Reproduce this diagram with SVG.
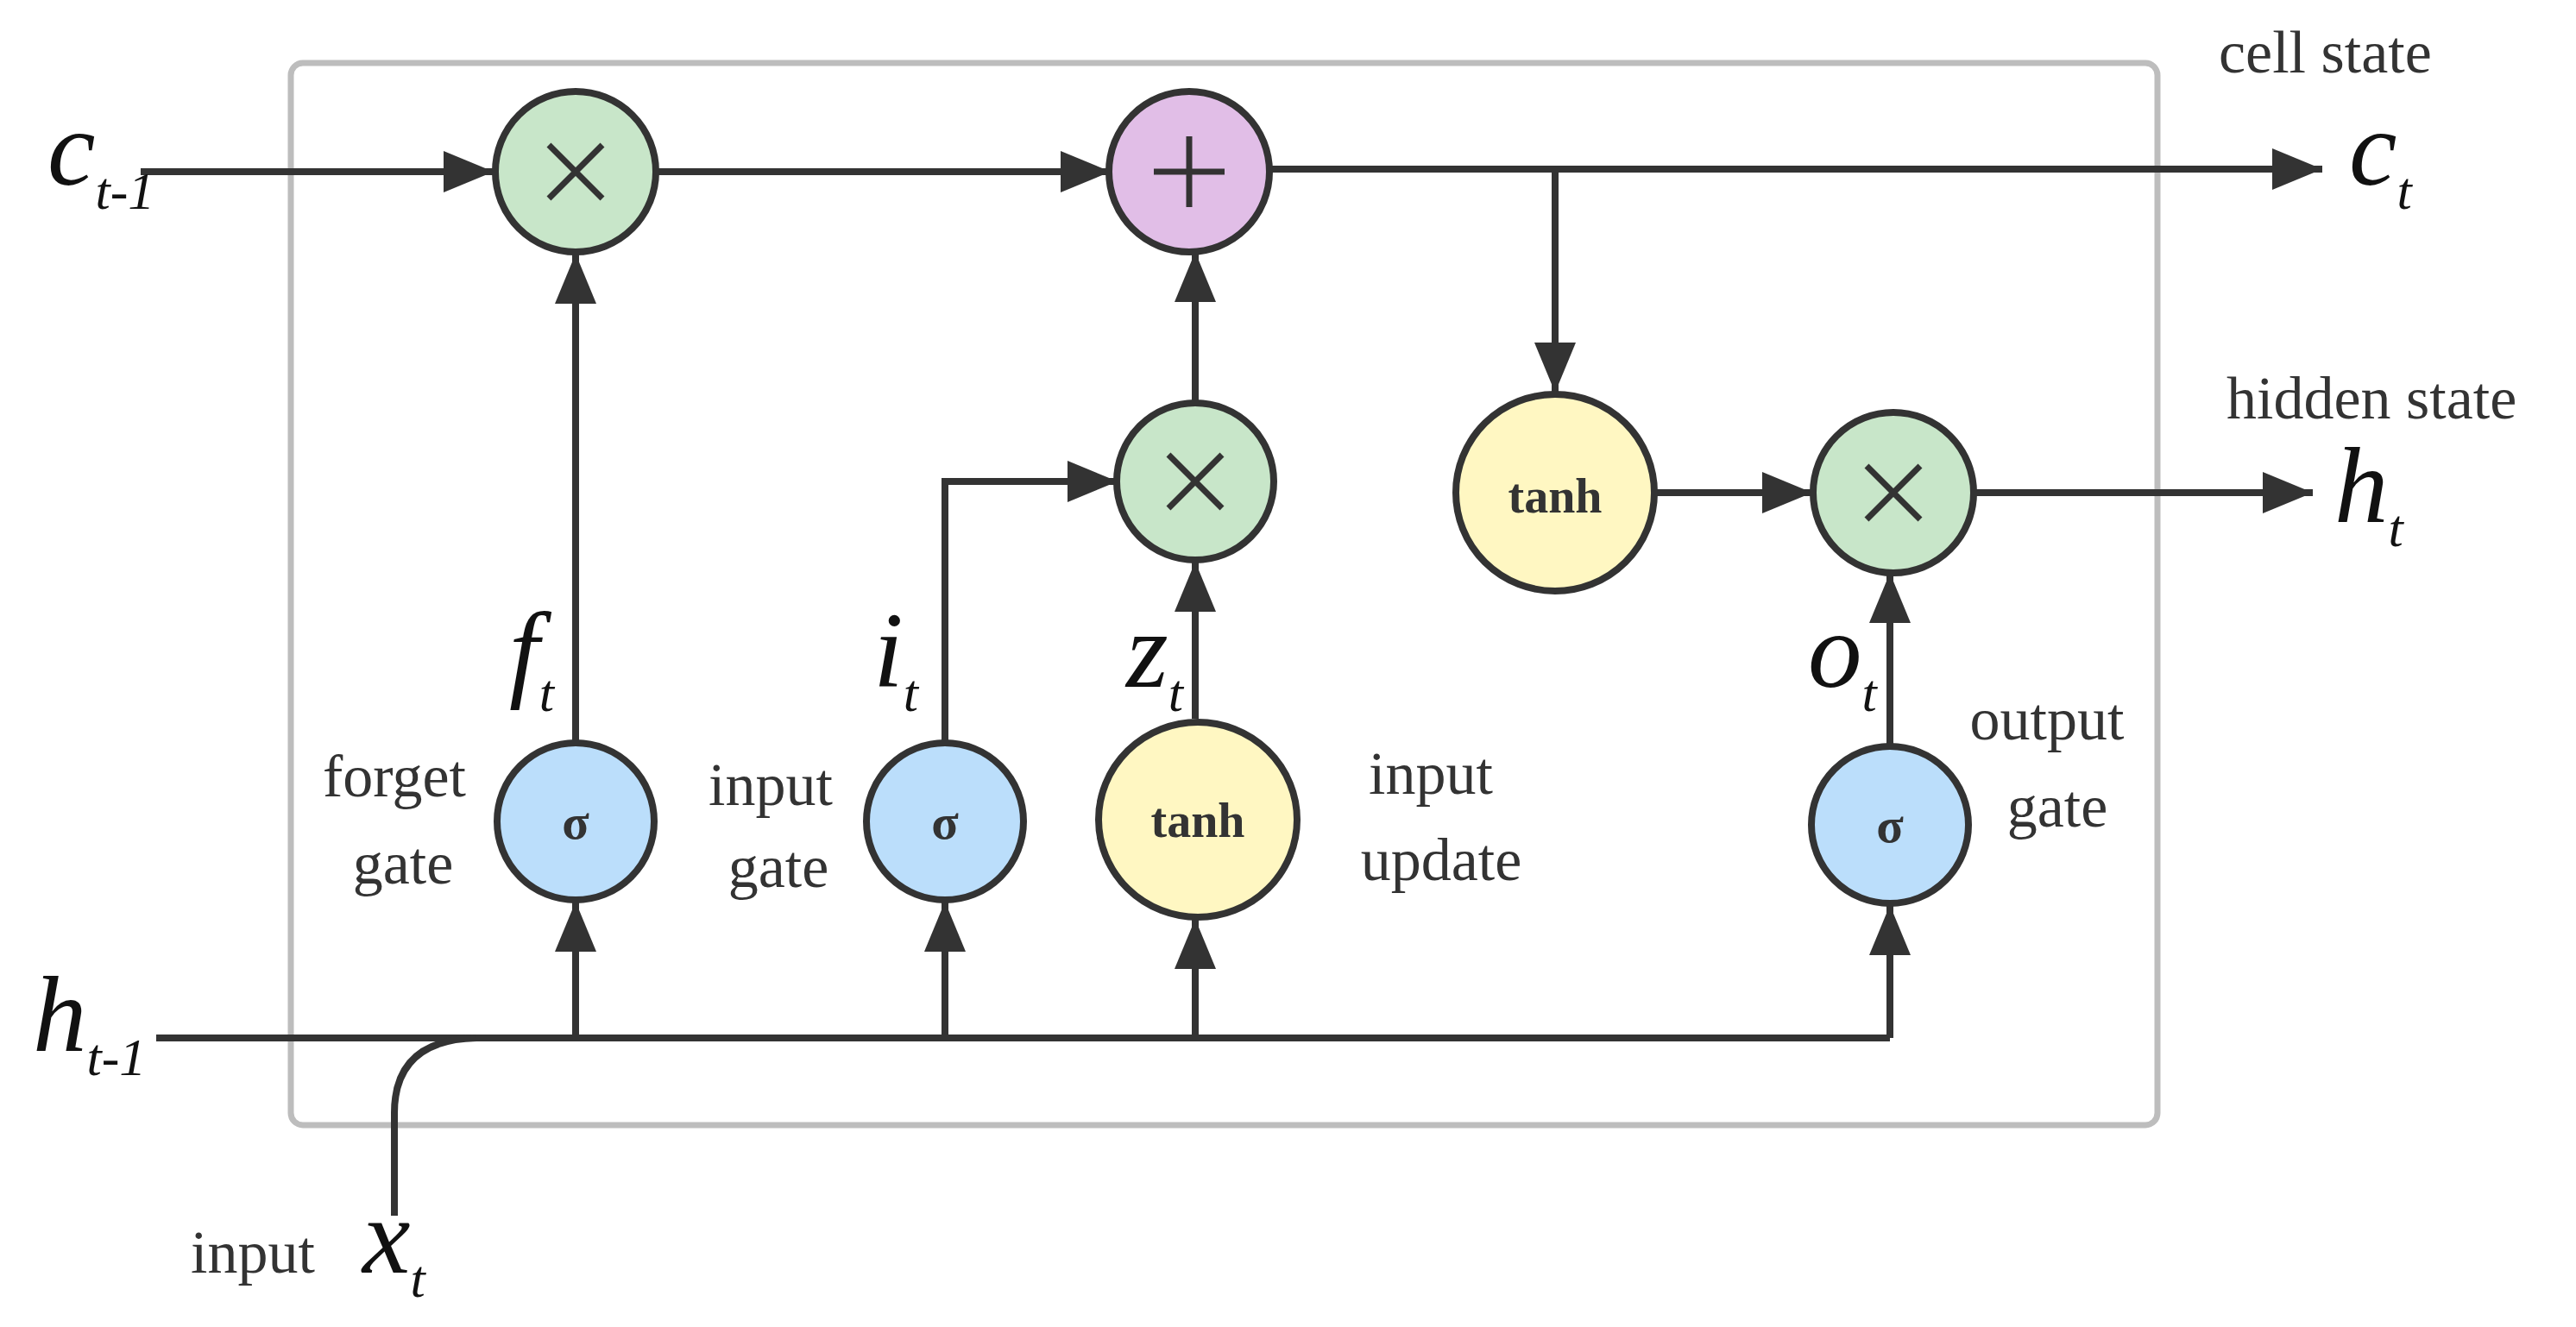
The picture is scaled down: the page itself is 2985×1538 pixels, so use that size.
<svg xmlns="http://www.w3.org/2000/svg" width="2985" height="1538" viewBox="0 0 2985 1538">
<style>
.n{stroke:#333;stroke-width:8}
.g{fill:#c8e6c9}.p{fill:#e1bee7}.y{fill:#fff7c2}.b{fill:#bbdefb}
.c{fill:none;stroke:#333;stroke-width:8}
.op{stroke:#333;stroke-width:7;fill:none}
.m{font-family:"Liberation Serif",serif;font-style:italic;fill:#111}
.t{font-family:"Liberation Serif",serif;font-size:70px;fill:#333}
.f{font-family:"Liberation Serif",serif;font-weight:bold;fill:#333;text-anchor:middle}
</style>
<defs>
<marker id="a" markerUnits="userSpaceOnUse" markerWidth="60" markerHeight="50" refX="58" refY="24" orient="auto"><path d="M0,0 L58,24 L0,48 Z" fill="#333"/></marker>
</defs>
<rect x="337" y="73" width="2163" height="1231" rx="14" fill="none" stroke="#bdbdbd" stroke-width="7"/>
<g id="connectors">
<path class="c" d="M163,199 H572" marker-end="url(#a)"/>
<path class="c" d="M760,199 H1287" marker-end="url(#a)"/>
<path class="c" d="M1470,196 H2691" marker-end="url(#a)"/>
<path class="c" d="M1802,196 V455" marker-end="url(#a)"/>
<path class="c" d="M1918,571 H2100" marker-end="url(#a)"/>
<path class="c" d="M2287,571 H2680" marker-end="url(#a)"/>
<path class="c" d="M667,861 V294" marker-end="url(#a)"/>
<path class="c" d="M1095,861 V558 H1295" marker-end="url(#a)"/>
<path class="c" d="M1385,833 V651" marker-end="url(#a)"/>
<path class="c" d="M1385,467 V292" marker-end="url(#a)"/>
<path class="c" d="M2190,865 V664" marker-end="url(#a)"/>
<path class="c" d="M181,1203 H2190"/>
<path class="c" d="M667,1203 V1045" marker-end="url(#a)"/>
<path class="c" d="M1095,1203 V1045" marker-end="url(#a)"/>
<path class="c" d="M1385,1203 V1065" marker-end="url(#a)"/>
<path class="c" d="M2190,1203 V1049" marker-end="url(#a)"/>
<path class="c" d="M457,1409 V1290 Q457,1205 552,1203"/>
</g>
<g id="mul1"><circle class="n g" cx="667" cy="199" r="93"/><path class="op" d="M636,168 L698,230 M698,168 L636,230"/></g>
<g id="add"><circle class="n p" cx="1378" cy="199" r="93"/><path class="op" d="M1378,158 V240 M1337,199 H1419"/></g>
<g id="mul2"><circle class="n g" cx="1385" cy="558" r="91"/><path class="op" d="M1354,527 L1416,589 M1416,527 L1354,589"/></g>
<g id="tanhc"><ellipse class="n y" cx="1802" cy="571" rx="115" ry="114"/><text class="f" x="1802" y="594" font-size="56">tanh</text></g>
<g id="mul3"><circle class="n g" cx="2194" cy="571" r="93"/><path class="op" d="M2163,540 L2225,602 M2225,540 L2163,602"/></g>
<g id="forget"><circle class="n b" cx="667" cy="952" r="91"/><text class="f" x="667" y="972" font-size="58">σ</text></g>
<g id="inputg"><circle class="n b" cx="1095" cy="952" r="91"/><text class="f" x="1095" y="972" font-size="58">σ</text></g>
<g id="update"><ellipse class="n y" cx="1388" cy="950" rx="115" ry="113"/><text class="f" x="1388" y="970" font-size="56">tanh</text></g>
<g id="output"><circle class="n b" cx="2190" cy="956" r="91"/><text class="f" x="2190" y="976" font-size="58">σ</text></g>
<g id="labels">
<text class="m" x="55" y="214" font-size="125">c<tspan font-size="62" dy="28">t-1</tspan></text>
<text class="m" x="2722" y="214" font-size="125">c<tspan font-size="62" dy="28">t</tspan></text>
<text class="m" x="2705" y="605" font-size="125">h<tspan font-size="62" dy="28">t</tspan></text>
<text class="m" x="38" y="1218" font-size="125">h<tspan font-size="62" dy="28">t-1</tspan></text>
<text class="m" x="590" y="796" font-size="125">f<tspan font-size="62" dy="28">t</tspan></text>
<text class="m" x="1012" y="796" font-size="125">i<tspan font-size="62" dy="28">t</tspan></text>
<text class="m" x="1305" y="796" font-size="125">z<tspan font-size="62" dy="28">t</tspan></text>
<text class="m" x="2095" y="796" font-size="125">o<tspan font-size="62" dy="28">t</tspan></text>
<text class="m" x="420" y="1475" font-size="125">x<tspan font-size="62" dy="28">t</tspan></text>
<text class="t" x="2571" y="84">cell state</text>
<text class="t" x="2580" y="485">hidden state</text>
<text class="t" x="457" y="923" text-anchor="middle">forget</text>
<text class="t" x="467" y="1024" text-anchor="middle">gate</text>
<text class="t" x="893" y="933" text-anchor="middle">input</text>
<text class="t" x="902" y="1028" text-anchor="middle">gate</text>
<text class="t" x="1658" y="920" text-anchor="middle">input</text>
<text class="t" x="1670" y="1020" text-anchor="middle">update</text>
<text class="t" x="2372" y="857" text-anchor="middle">output</text>
<text class="t" x="2384" y="958" text-anchor="middle">gate</text>
<text class="t" x="293" y="1475" text-anchor="middle">input</text>
</g>
</svg>
